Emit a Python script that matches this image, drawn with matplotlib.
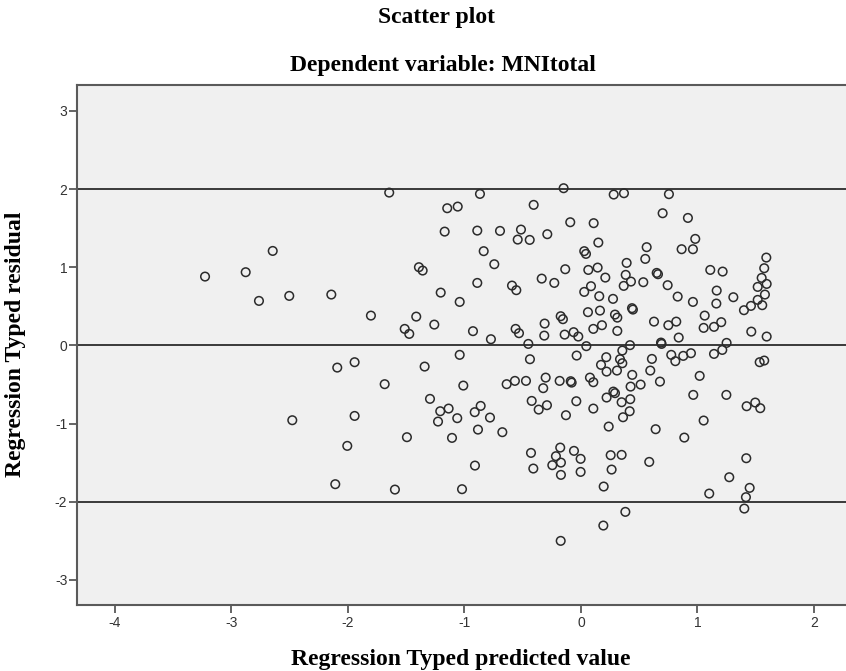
import matplotlib
matplotlib.use("Agg")
import matplotlib.pyplot as plt

# Data (standardized predicted value, standardized residual)
pred = [
    -1.646, -2.646, -3.227, -2.878, -2.764, -2.504, -2.143, -1.803,
    -2.092, -1.943, -1.685, -2.478, -1.943, -2.006, -2.109, -1.597,
    -0.867, -1.148, -1.058, -0.406, -1.170, -0.890, -0.695, -0.515, -0.543, -0.440,
    -0.835, -0.744, -1.391, -1.359, -0.890, -0.592, -0.555, -1.204, -1.041, -1.414,
    -1.259, -1.513, -1.474, -0.927, -0.773, -0.561, -0.532, -0.452,
    -1.041, -1.342, -0.438, -0.638, -0.567, -0.472, -1.010, -1.296, -0.423, -0.363,
    -1.208, -1.136, -1.227, -1.062, -0.912, -0.861, -0.781, -0.884, -0.675, -1.494,
    -1.107, -0.429, -0.409, -0.910, -1.021,
    -0.149, 0.281, 0.369, 0.755, 0.701, 0.918, -0.092, 0.109, -0.289, 0.149,
    0.564, 0.552, 0.864, 0.961, 0.028, 0.043, 0.392, -0.135, 0.063, 0.143,
    -0.337, -0.229, 0.209, 0.384, 0.429, 0.535, 0.367, 0.650, 0.661, 0.744,
    0.086, 0.028, 0.157, 0.275, 0.830, 0.961, 0.060, 0.163, -0.174, -0.155,
    0.292, 0.312, 0.438, 0.446, 0.627, 0.750, 0.818, -0.312, -0.315, -0.140,
    -0.063, -0.023, 0.106, 0.180, 0.312, 0.839, 0.046, 0.421, 0.687, 0.692,
    -0.037, 0.217, 0.355, 0.335, 0.355, 0.172, 0.220, 0.309, 0.609, 0.595,
    0.775, 0.810, 0.878, 0.944, -0.303, -0.324, -0.183, -0.088, -0.080, 0.077,
    0.106, 0.440, 0.426, 0.512, 0.678, 0.278, 0.292, 0.220, 0.349, 0.423,
    0.418, 0.361, -0.292, -0.040, 0.106, -0.129, 0.238, 0.641, 0.887, 0.964,
    -0.178, -0.215, -0.060, -0.003, -0.246, -0.172, -0.172, -0.003, 0.255, 0.349,
    0.263, 0.586, 0.195, 0.381, 0.192, -0.174,
    0.981, 1.110, 1.216, 1.165, 1.308, 1.162, 1.062, 1.053, 1.142, 1.204,
    1.250, 1.399, 1.459, 1.517, 1.556, 1.579, 1.517, 1.594, 1.551, 1.573,
    1.591, 1.462, 1.594,
    1.142, 1.213, 1.534, 1.573, 1.019, 1.248, 1.422, 1.496, 1.539, 1.053,
    1.419, 1.273, 1.101, 1.448, 1.416, 1.402,
]
resid = [
    1.954, 1.208, 0.880, 0.936, 0.569, 0.633, 0.650, 0.381,
    -0.284, -0.215, -0.496, -0.957, -0.902, -1.285, -1.775, -1.844,
    1.937, 1.754, 1.775, 1.797, 1.455, 1.468, 1.464, 1.481, 1.353, 1.349,
    1.205, 1.038, 1.000, 0.957, 0.799, 0.765, 0.706, 0.675, 0.556, 0.368,
    0.266, 0.211, 0.147, 0.182, 0.079, 0.211, 0.156, 0.019,
    -0.121, -0.271, -0.177, -0.496, -0.454, -0.454, -0.514, -0.684, -0.710, -0.821,
    -0.842, -0.808, -0.974, -0.931, -0.854, -0.774, -0.923, -1.077, -1.110, -1.174,
    -1.183, -1.375, -1.575, -1.537, -1.839,
    2.010, 1.929, 1.946, 1.934, 1.690, 1.630, 1.575, 1.563, 1.422, 1.315,
    1.256, 1.106, 1.230, 1.230, 1.205, 1.170, 1.055, 0.974, 0.965, 0.995,
    0.854, 0.799, 0.867, 0.902, 0.816, 0.808, 0.761, 0.927, 0.910, 0.770,
    0.757, 0.684, 0.629, 0.595, 0.624, 0.556, 0.425, 0.445, 0.373, 0.335,
    0.394, 0.355, 0.476, 0.458, 0.304, 0.258, 0.304, 0.279, 0.125, 0.138,
    0.169, 0.113, 0.211, 0.258, 0.185, 0.100, -0.010, 0.003, 0.036, 0.019,
    -0.130, -0.151, -0.066, -0.177, -0.228, -0.249, -0.335, -0.322, -0.173, -0.322,
    -0.121, -0.202, -0.134, -0.100, -0.412, -0.547, -0.454, -0.458, -0.476, -0.412,
    -0.471, -0.377, -0.527, -0.501, -0.463, -0.591, -0.611, -0.667, -0.727, -0.688,
    -0.842, -0.919, -0.765, -0.714, -0.808, -0.893, -1.038, -1.072, -1.179, -0.633,
    -1.307, -1.417, -1.349, -1.451, -1.532, -1.499, -1.656, -1.618, -1.404, -1.400,
    -1.588, -1.490, -1.805, -2.129, -2.304, -2.500,
    1.362, 0.965, 0.944, 0.701, 0.616, 0.535, 0.381, 0.224, 0.237, 0.297,
    0.032, 0.450, 0.505, 0.582, 0.514, 0.650, 0.748, 0.786, 0.863, 0.987,
    1.123, 0.176, 0.113,
    -0.109, -0.058, -0.215, -0.194, -0.390, -0.633, -0.778, -0.731, -0.803, -0.961,
    -1.443, -1.686, -1.895, -1.822, -1.941, -2.087,
]
ref_lines = [-2, 0, 2]
x_ticks = [-4, -3, -2, -1, 0, 1, 2]
y_ticks = [-3, -2, -1, 0, 1, 2, 3]

title = "Scatter plot"
subtitle = "Dependent variable: MNItotal"
xlabel = "Regression Typed predicted value"
ylabel = "Regression Typed residual"

W, H = 846, 671
fig = plt.figure(figsize=(W / 100, H / 100), dpi=100)
fig.patch.set_facecolor("white")
ax = fig.add_axes([77 / W, (H - 605) / H, 1 - 77 / W, (605 - 85) / H])
ax.set_facecolor("#f0f0f0")

for yv in ref_lines:
    ax.axhline(yv, color="#3a3a3a", linewidth=1.4, zorder=1)

ax.scatter(pred, resid, s=38, facecolors="none", edgecolors="#2b2b2b",
           linewidths=1.1, zorder=3)

ax.set_xlim(-4.326, 2.275)
ax.set_ylim(-3.32, 3.33)
ax.set_xticks(x_ticks)
ax.set_yticks(y_ticks)
ax.set_xticklabels([str(v) for v in x_ticks])
ax.set_yticklabels([str(v) for v in y_ticks])

for side in ["left", "bottom", "top", "right"]:
    ax.spines[side].set_color("#5a5a5a")
    ax.spines[side].set_linewidth(1.5)
ax.spines["right"].set_visible(False)

ax.tick_params(axis="both", direction="out", length=5.5, width=1.2,
               color="#4a4a4a", labelcolor="#333333", labelsize=10)
ax.tick_params(axis="x", pad=2.5)
ax.tick_params(axis="y", pad=1.5)
for lab in ax.get_xticklabels() + ax.get_yticklabels():
    lab.set_fontfamily("Liberation Sans")

serif = "Liberation Serif"
fig.text(436 / W, 1 - 18 / H, title, ha="center", va="center",
         fontsize=17, fontweight="bold", family=serif)
fig.text(443 / W, 1 - 65 / H, subtitle, ha="center", va="center",
         fontsize=17, fontweight="bold", family=serif)
fig.text(461 / W, 1 - 665.5 / H, xlabel, ha="center", va="baseline",
         fontsize=17, fontweight="bold", family=serif)
fig.text(16 / W, 1 - 344 / H, ylabel, ha="center", va="center", rotation=90,
         fontsize=17, fontweight="bold", family=serif)

fig.savefig("out.png", dpi=100, facecolor="white")
